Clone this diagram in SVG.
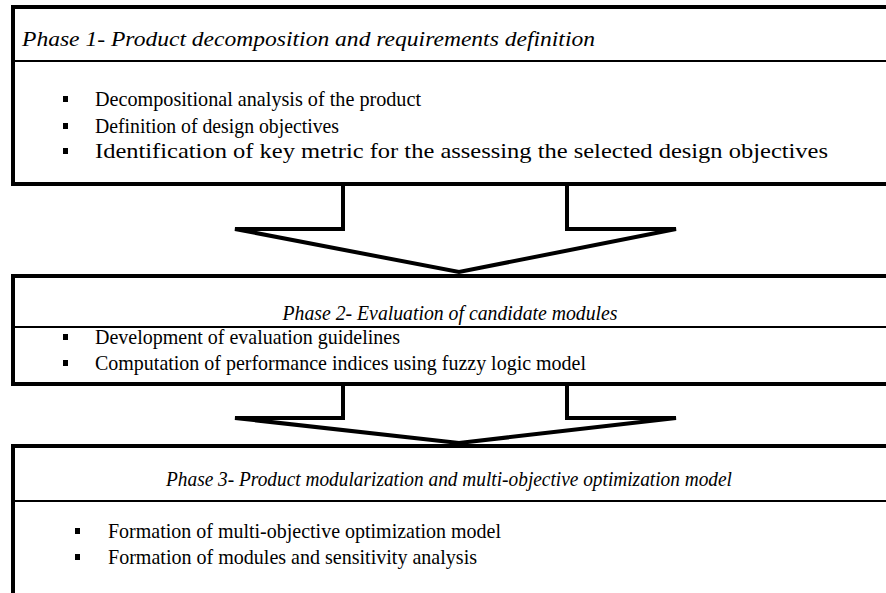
<svg xmlns="http://www.w3.org/2000/svg" width="886" height="593" viewBox="0 0 886 593">
  <style>
    .frame { fill: none; stroke: #000; stroke-width: 4; }
    .rule { stroke: #000; stroke-width: 2; }
    .arrow { fill: none; stroke: #000; stroke-width: 4; stroke-linejoin: miter; }
    .head { font-family: "Liberation Serif", "Times New Roman", serif; font-style: italic; font-size: 22px; fill: #000; }
    .item { font-family: "Liberation Serif", "Times New Roman", serif; font-size: 22px; fill: #000; }
    .bullet { fill: #000; }
  </style>
  <rect width="886" height="593" fill="#fff"/>

  <!-- Phase 1 box: open on the right -->
  <g id="phase1">
    <rect class="frame" x="13" y="7" width="900" height="177"/>
    <line class="rule" x1="13" y1="61" x2="886" y2="61"/>
    <text class="head" x="22" y="46" font-size="24" textLength="573" lengthAdjust="spacingAndGlyphs">Phase 1- Product decomposition and requirements definition</text>
    <rect class="bullet" x="63" y="96" width="5" height="6"/>
    <text class="item" x="95" y="106" textLength="326" lengthAdjust="spacingAndGlyphs">Decompositional analysis of the product</text>
    <rect class="bullet" x="63" y="123" width="5" height="6"/>
    <text class="item" x="95" y="133" textLength="244" lengthAdjust="spacingAndGlyphs">Definition of design objectives</text>
    <rect class="bullet" x="63" y="148" width="5" height="6"/>
    <text class="item" x="95" y="158" textLength="733" lengthAdjust="spacingAndGlyphs">Identification of key metric for the assessing the selected design objectives</text>
  </g>

  <g id="phase2">
    <rect class="frame" x="13" y="276" width="900" height="108"/>
    <line class="rule" x1="13" y1="327" x2="886" y2="327"/>
    <text class="head" x="450" y="320" text-anchor="middle" textLength="335" lengthAdjust="spacingAndGlyphs">Phase 2- Evaluation of candidate modules</text>
    <rect class="bullet" x="63" y="334" width="5" height="6"/>
    <text class="item" x="95" y="344" textLength="305" lengthAdjust="spacingAndGlyphs">Development of evaluation guidelines</text>
    <rect class="bullet" x="63" y="360" width="5" height="6"/>
    <text class="item" x="95" y="370" textLength="491" lengthAdjust="spacingAndGlyphs">Computation of performance indices using fuzzy logic model</text>
  </g>

  <g id="phase3">
    <rect class="frame" x="13" y="446" width="900" height="200"/>
    <line class="rule" x1="13" y1="501" x2="886" y2="501"/>
    <text class="head" x="449" y="486" text-anchor="middle" textLength="566" lengthAdjust="spacingAndGlyphs">Phase 3- Product modularization and multi-objective optimization model</text>
    <rect class="bullet" x="75" y="528" width="5" height="6"/>
    <text class="item" x="108" y="538" textLength="393" lengthAdjust="spacingAndGlyphs">Formation of multi-objective optimization model</text>
    <rect class="bullet" x="75" y="554" width="5" height="6"/>
    <text class="item" x="108" y="564" textLength="369" lengthAdjust="spacingAndGlyphs">Formation of modules and sensitivity analysis</text>
  </g>

  <!-- block arrows between phases -->
  <g id="connectors">
    <path class="arrow" d="M343,184 V229 H235 L459,272 L676,229 H567 V184"/>
    <path class="arrow" d="M343,384 V418 H235 L459,443 L676,418 H567 V384"/>
  </g>
</svg>
